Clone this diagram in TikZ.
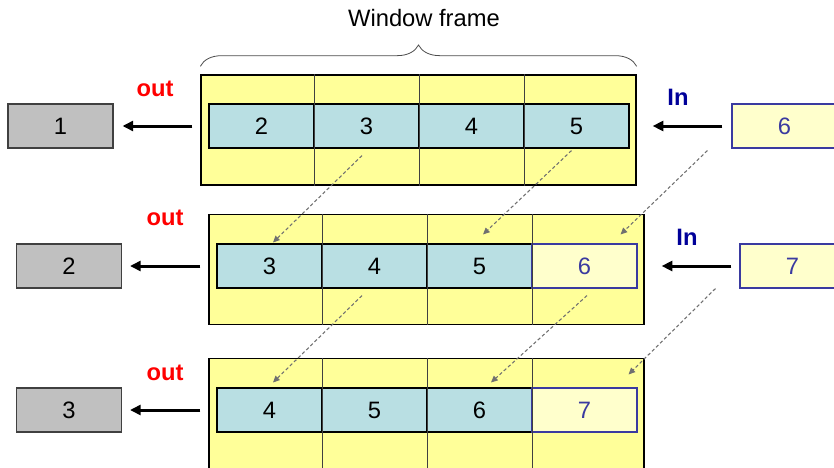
\documentclass[tikz,border=0pt]{standalone}
\usepackage{fontspec}
\setmainfont{Liberation Sans}
\usetikzlibrary{arrows.meta,calc,decorations.pathreplacing}
\definecolor{winyellow}{HTML}{FFFF99}
\definecolor{cellcyan}{HTML}{B9DFE3}
\definecolor{newyellow}{HTML}{FFFFCC}
\definecolor{newblue}{HTML}{3A3AA0}
\definecolor{inblue}{HTML}{000099}
\definecolor{outgray}{HTML}{C0C0C0}
\definecolor{dividergray}{HTML}{404040}
\definecolor{movegray}{HTML}{707070}

\begin{document}
\begin{tikzpicture}[
    x=0.75pt, y=-0.75pt,
    font=\fontsize{17.8}{21}\selectfont,
    window/.style={rectangle, draw=black, line width=1pt, fill=winyellow, minimum width=326.25pt, minimum height=82.5pt, inner sep=0pt},
    cell/.style={rectangle, draw=black, line width=0.8pt, fill=cellcyan, minimum width=78.75pt, minimum height=33pt, inner sep=0pt},
    newcell/.style={cell, draw=newblue, fill=newyellow, text=newblue},
    outbox/.style={cell, draw=black!75, fill=outgray},
    divider/.style={draw=dividergray, line width=1.1pt},
    flow/.style={-{Triangle[length=8pt,width=7.5pt]}, line width=2.25pt},
    moveline/.style={-{Triangle[length=5pt,width=4.5pt]}, draw=movegray, dash pattern=on 2.5pt off 1.8pt, line width=0.8pt},
    outlabel/.style={text=red, font=\fontsize{17.8}{21}\selectfont\bfseries},
    inlabel/.style={text=inblue, font=\fontsize{17.8}{21}\selectfont\bfseries}
]
    \useasboundingbox (0,0) rectangle (834,467);
    \clip (0,0) rectangle (834,467);

    \node[window] (wa) at (418.5,130) {};
    \node[window] (wb) at (426.5,269.5) {};
    \node[window] (wc) at (426.5,413.5) {};

    \node[cell] (a1) at (261.5,126) {2};
    \node[cell] (a2) at (366.5,126) {3};
    \node[cell] (a3) at (471.5,126) {4};
    \node[cell] (a4) at (576.5,126) {5};

    \node[cell] (b1) at (269.5,266) {3};
    \node[cell] (b2) at (374.5,266) {4};
    \node[cell] (b3) at (479.5,266) {5};
    \node[newcell] (b4) at (584.5,266) {6};

    \node[cell] (c1) at (269.5,410) {4};
    \node[cell] (c2) at (374.5,410) {5};
    \node[cell] (c3) at (479.5,410) {6};
    \node[newcell] (c4) at (584.5,410) {7};

    \foreach \r in {a,b,c}
        \foreach \c in {1,2,3}
            \draw[divider] (\r\c.east |- w\r.north) -- (\r\c.east |- w\r.south);

    \node[outbox] (o1) at (60.5,126) {1};
    \node[outbox] (o2) at (69,266) {2};
    \node[outbox] (o3) at (69,410) {3};
    \node[newcell] (i1) at (784.5,126) {6};
    \node[newcell] (i2) at (792.5,266) {7};

    \node[outlabel] (out1) at (155,89) {out};
    \node[outlabel] (out2) at (165,218) {out};
    \node[outlabel] (out3) at (165,373) {out};
    \node[inlabel] (in1) at (678,97) {In};
    \node[inlabel] (in2) at (687,237) {In};

    \draw[flow] ($(wa.west)+(-8,-4)$) -- ($(o1.east)+(9,0)$);
    \draw[flow] ($(wb.west)+(-8,-3.5)$) -- ($(o2.east)+(8,0)$);
    \draw[flow] ($(wc.west)+(-8,-3.5)$) -- ($(o3.east)+(8,0)$);
    \draw[flow] ($(i1.west)+(-9,0)$) -- ($(wa.east |- a4)+(16,0)$);
    \draw[flow] ($(i2.west)+(-8,0)$) -- ($(wb.east |- b4)+(17,0)$);

    \draw[moveline] ($(a2.south)+(-4.5,7)$) -- ($(b1.north)+(3.5,-1)$);
    \draw[moveline] ($(a4.south)+(-5,2)$) -- ($(b3.north)+(3.5,-9)$);
    \draw[moveline] ($(i1.south west)+(-24,2)$) -- ($(b4.north east)+(-17,-9)$);
    \draw[moveline] ($(b2.south)+(-12.5,7)$) -- ($(c1.north)+(3.5,-5)$);
    \draw[moveline] ($(b4.south)+(2.5,7)$) -- ($(c3.north)+(11.5,-5)$);
    \draw[moveline] ($(i2.south west)+(-24,0)$) -- ($(c4.north east)+(-9,-13)$);

    \draw[decorate, decoration={brace, amplitude=16pt}, draw=black!70, line width=0.6pt]
        ($(wa.north west)+(0,-8)$) -- ($(wa.north east)+(0,-8)$);
    \node (title) at (424,18) {Window frame};
\end{tikzpicture}
\end{document}
